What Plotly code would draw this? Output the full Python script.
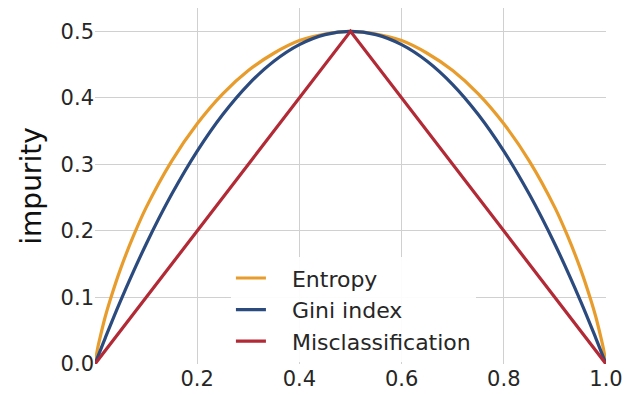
import plotly.graph_objects as go

# class-membership probability p(i=1)
p_ent = [0.0, 0.005, 0.01, 0.02, 0.03, 0.05, 0.075, 0.1, 0.15, 0.2, 0.25, 0.3, 0.35, 0.4, 0.45, 0.5,
         0.55, 0.6, 0.65, 0.7, 0.75, 0.8, 0.85, 0.9, 0.925, 0.95, 0.97, 0.98, 0.99, 0.995, 1.0]
entropy = [0.0, 0.023, 0.040, 0.071, 0.097, 0.143, 0.192, 0.235, 0.305, 0.361, 0.406, 0.441, 0.467, 0.486, 0.496, 0.500,
           0.496, 0.486, 0.467, 0.441, 0.406, 0.361, 0.305, 0.235, 0.192, 0.143, 0.097, 0.071, 0.040, 0.023, 0.0]

p_gini = [0.0, 0.02, 0.05, 0.1, 0.15, 0.2, 0.25, 0.3, 0.35, 0.4, 0.45, 0.5,
          0.55, 0.6, 0.65, 0.7, 0.75, 0.8, 0.85, 0.9, 0.95, 0.98, 1.0]
gini = [0.0, 0.039, 0.095, 0.180, 0.255, 0.320, 0.375, 0.420, 0.455, 0.480, 0.495, 0.500,
        0.495, 0.480, 0.455, 0.420, 0.375, 0.320, 0.255, 0.180, 0.095, 0.039, 0.0]

p_mis = [0.0, 0.5, 1.0]
misclass = [0.0, 0.5, 0.0]

series_names = ["Entropy", "Gini index", "Misclassification"]

x_ticks = [0.2, 0.4, 0.6, 0.8, 1.0]
x_labels = ["0.2", "0.4", "0.6", "0.8", "1.0"]
y_ticks = [0.0, 0.1, 0.2, 0.3, 0.4, 0.5]
y_labels = ["0.0", "0.1", "0.2", "0.3", "0.4", "0.5"]

FONT = "DejaVu Sans"
TXT = "#262626"
PAD = "\u00a0\u00a0\u00a0"  # visual gap between legend line and label

fig = go.Figure()
fig.add_trace(go.Scatter(x=p_ent, y=entropy, mode="lines", name=PAD + series_names[0],
                         line=dict(color="#E89C2C", width=3.2, shape="spline", smoothing=0.8)))
fig.add_trace(go.Scatter(x=p_gini, y=gini, mode="lines", name=PAD + series_names[1],
                         line=dict(color="#2B4A7E", width=3.2, shape="spline")))
fig.add_trace(go.Scatter(x=p_mis, y=misclass, mode="lines", name=PAD + series_names[2],
                         line=dict(color="#B22A35", width=3.2)))

fig.update_layout(
    width=636, height=395,
    margin=dict(l=87, r=38, t=0, b=39),
    paper_bgcolor="white", plot_bgcolor="white",
    font=dict(family=FONT, size=21, color=TXT),
    showlegend=True,
    legend=dict(x=0.266, y=0.005, xanchor="left", yanchor="bottom",
                bgcolor="rgba(255,255,255,0.92)", borderwidth=0,
                font=dict(family=FONT, size=22, color=TXT),
                itemwidth=30, tracegroupgap=0),
    xaxis=dict(range=[0, 1], tickvals=x_ticks, ticktext=x_labels,
               showgrid=True, gridcolor="#d0d0d0", gridwidth=1,
               zeroline=False, showline=False, ticks="", ticklen=0,
               tickfont=dict(family=FONT, size=21, color=TXT)),
    yaxis=dict(range=[0, 0.535], tickvals=y_ticks, ticktext=y_labels,
               showgrid=True, gridcolor="#d0d0d0", gridwidth=1,
               zeroline=False, showline=False, ticks="",
               title=dict(text="impurity", font=dict(family=FONT, size=28, color="#111111"), standoff=10),
               tickfont=dict(family=FONT, size=21, color=TXT)),
)

fig.write_html("out.html")
